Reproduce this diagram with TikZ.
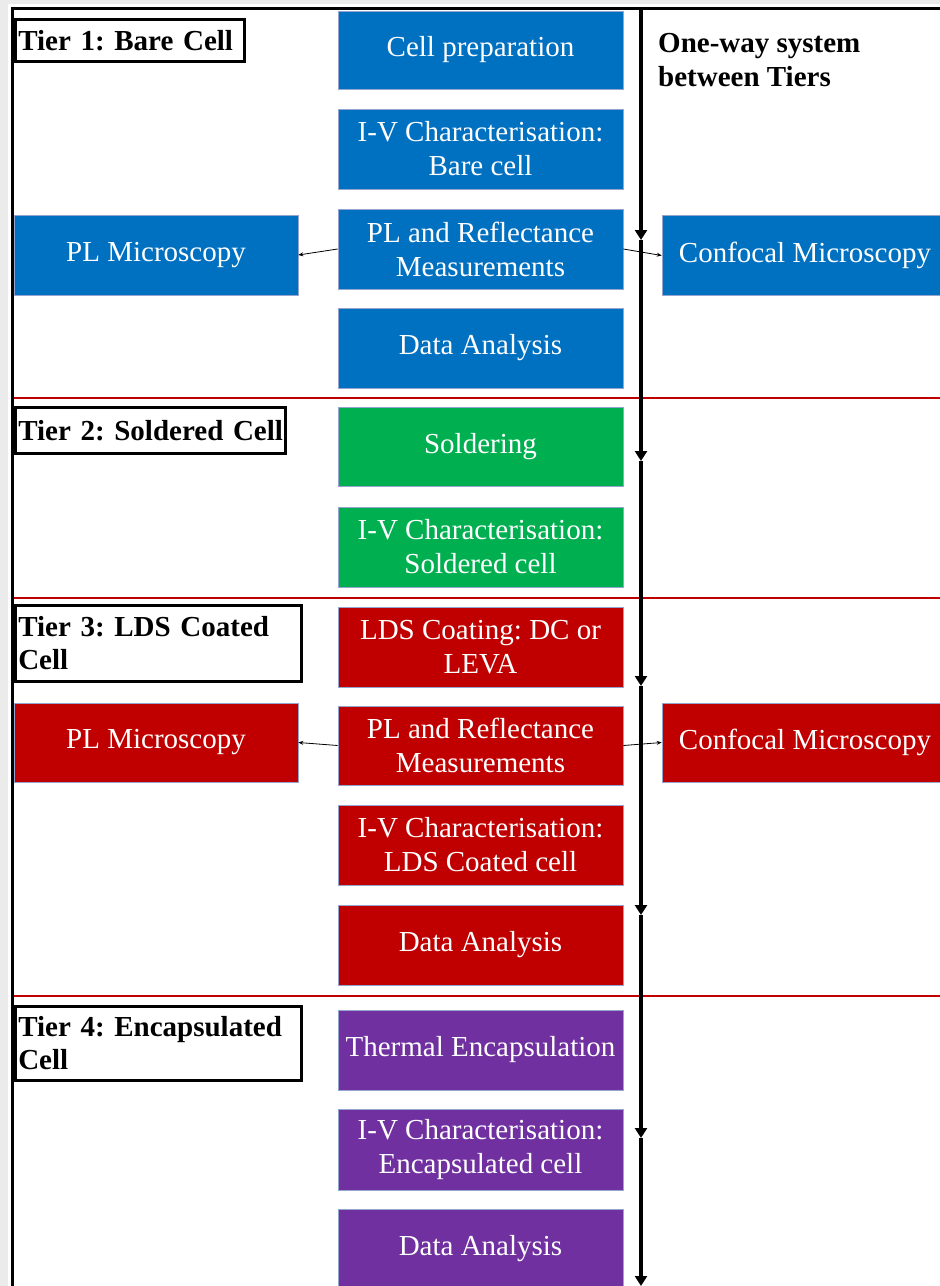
\documentclass[tikz,border=0pt]{standalone}
\usepackage{fontspec}
\setmainfont{Liberation Serif}
\usetikzlibrary{arrows.meta}
\definecolor{cblue}{HTML}{0070C0}
\definecolor{cgreen}{HTML}{00B050}
\definecolor{cred}{HTML}{C00000}
\definecolor{cpurple}{HTML}{7030A0}
\definecolor{boxedge}{RGB}{150,165,205}
\definecolor{edgegrey}{RGB}{235,235,235}
\begin{document}
\frenchspacing
\begin{tikzpicture}[x=1pt,y=-1pt,
  proc/.style={fill=#1, draw=boxedge, line width=0.6pt, text=white,
    minimum width=285pt, minimum height=80pt, inner sep=0pt, align=center,
    font=\fontsize{29}{34}\selectfont},
  side/.style={proc=#1, minimum width=285pt},
  tierlab/.style={draw=black, line width=2.5pt, anchor=north west,
    inner xsep=3pt, inner ysep=0pt, align=left,
    font=\bfseries\fontsize{29}{33}\selectfont},
  sepline/.style={draw=cred, line width=2.5pt},
  frameline/.style={draw=black, line width=3pt},
  flow/.style={draw=black, line width=3.2pt, -{Triangle[length=10pt,width=12pt]}},
  sidearrow/.style={draw=black, line width=0.8pt, -{Stealth[length=5pt,width=4pt]}}
]
\useasboundingbox (0,0) rectangle (940,1286);
% background edge
\fill[edgegrey] (0,0) rectangle (940,1286);
\fill[white] (8,4) rectangle (940,1286);

% frame
\coordinate (ftl) at (12.5,8.5);
\coordinate (ftr) at (940,8.5);
\coordinate (fbl) at (12.5,1286);
\draw[frameline] (ftr) -- (ftl) -- (fbl);

% separator lines
\coordinate (s1a) at (14,398); \coordinate (s1b) at (940,398);
\coordinate (s2a) at (14,598); \coordinate (s2b) at (940,598);
\coordinate (s3a) at (14,996); \coordinate (s3b) at (940,996);
\draw[sepline] (s1a) -- (s1b);
\draw[sepline] (s2a) -- (s2b);
\draw[sepline] (s3a) -- (s3b);

% Tier 1
\node[proc=cblue, minimum height=78pt] (cp) at (480.5,50) {Cell preparation};
\node[proc=cblue] (iv1) at (480.5,149) {I-V Characterisation:\\Bare cell};
\node[proc=cblue] (plr1) at (480.5,249) {PL and Reflectance\\Measurements};
\node[proc=cblue] (da1) at (480.5,348) {Data Analysis};
\node[side=cblue, minimum width=284pt] (plm1) at (156,255) {PL Microscopy};
\node[side=cblue, minimum width=286pt] (conf1) at (805,255.5) {Confocal Microscopy};

% Tier 2
\node[proc=cgreen, minimum height=79pt] (sold) at (480.5,446.5) {Soldering};
\node[proc=cgreen] (iv2) at (480.5,547) {I-V Characterisation:\\Soldered cell};

% Tier 3
\node[proc=cred] (lds) at (480.5,647) {LDS Coating: DC or\\LEVA};
\node[proc=cred, minimum height=79pt] (plr3) at (480.5,745.5) {PL and Reflectance\\Measurements};
\node[proc=cred] (iv3) at (480.5,845) {I-V Characterisation:\\LDS Coated cell};
\node[proc=cred] (da3) at (480.5,945) {Data Analysis};
\node[side=cred, minimum width=284pt, minimum height=79pt] (plm3) at (156,742.5) {PL Microscopy};
\node[side=cred, minimum width=286pt, minimum height=79pt] (conf3) at (805,742.5) {Confocal Microscopy};

% Tier 4
\node[proc=cpurple] (te) at (480.5,1050) {Thermal Encapsulation};
\node[proc=cpurple, minimum height=81pt] (iv4) at (480.5,1149.5) {I-V Characterisation:\\Encapsulated cell};
\node[proc=cpurple] (da4) at (480.5,1249) {Data Analysis};

% tier labels
\node[tierlab, text width=223pt, minimum height=42pt] (t1) at (14,18) {\mbox{Tier 1: Bare Cell}};
\node[tierlab, text width=264pt, minimum height=46pt] (t2) at (14,406) {\mbox{Tier 2: Soldered Cell}};
\node[tierlab, text width=280pt, minimum height=76pt] (t3) at (14,604) {\mbox{Tier 3: LDS Coated}\\Cell};
\node[tierlab, text width=280pt, minimum height=74pt] (t4) at (14,1005) {\mbox{Tier 4: Encapsulated}\\Cell};

% one-way note
\node[anchor=north west, inner sep=0pt, align=left,
  font=\bfseries\fontsize{29}{34}\selectfont] (note) at (658,33) {One-way system\\between Tiers};

% side arrows
\draw[sidearrow] (plr1.west) -- (plm1.east);
\draw[sidearrow] (plr1.east) -- (conf1.west);
\draw[sidearrow] (plr3.west) -- (plm3.east);
\draw[sidearrow] (plr3.east) -- (conf3.west);

% one-way vertical flow
\coordinate (v0) at (641,8.5);
\coordinate (v1) at (641,240);
\coordinate (v2) at (641,461);
\coordinate (v3) at (641,686);
\coordinate (v4) at (641,915);
\coordinate (v5) at (641,1138);
\coordinate (v6) at (641,1286);
\draw[flow] (v0) -- (v1);
\draw[flow] (v1) -- (v2);
\draw[flow] (v2) -- (v3);
\draw[flow] (v3) -- (v4);
\draw[flow] (v4) -- (v5);
\draw[flow] (v5) -- (v6);
\end{tikzpicture}
\end{document}
